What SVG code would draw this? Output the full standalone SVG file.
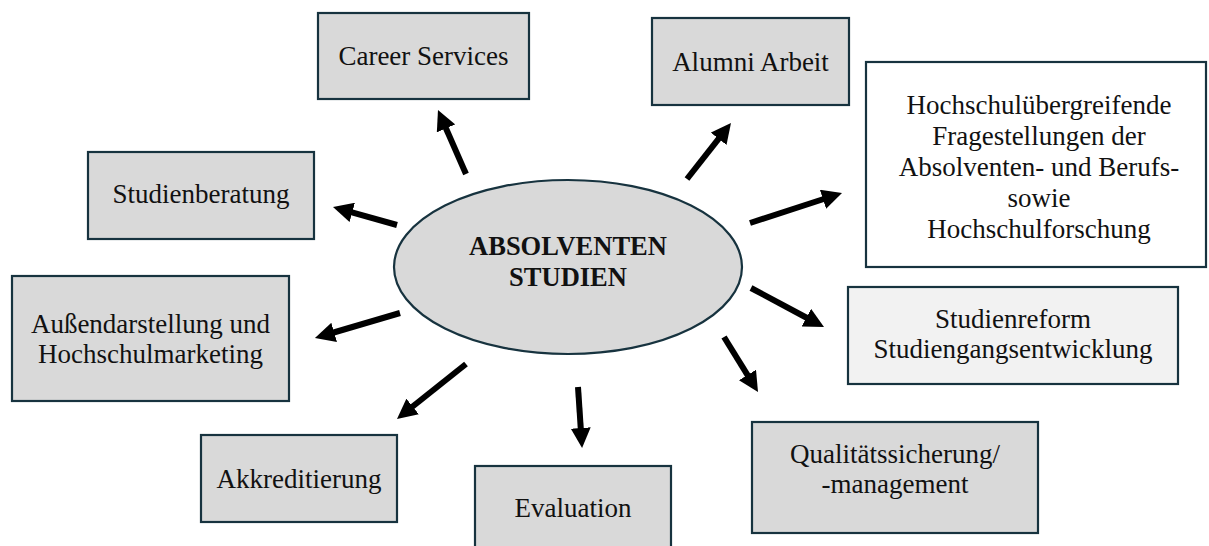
<svg xmlns="http://www.w3.org/2000/svg" width="1209" height="546" viewBox="0 0 1209 546">
  <style>
    .box { fill: #d9d9d9; stroke: #17333f; stroke-width: 2.2; }
    .box-white { fill: #ffffff; stroke: #17333f; stroke-width: 2.2; }
    .box-light { fill: #f2f2f2; stroke: #17333f; stroke-width: 2.2; }
    .lbl { font-family: "Liberation Serif", "Times New Roman", serif; font-size: 27px; fill: #111111; text-anchor: middle; }
    .hub { font-family: "Liberation Serif", "Times New Roman", serif; font-size: 26.5px; font-weight: bold; fill: #111111; text-anchor: middle; }
    .arrow { stroke: #000000; stroke-width: 6; fill: none; marker-end: url(#head); }
  </style>
  <defs>
    <marker id="head" markerUnits="userSpaceOnUse" viewBox="0 0 20 20" markerWidth="20" markerHeight="20" refX="4" refY="10" orient="auto">
      <path d="M0,0 L20,10 L0,20 z" fill="#000000"/>
    </marker>
  </defs>

  <rect width="1209" height="546" fill="#ffffff"/>

  <!-- central ellipse -->
  <g id="hub">
    <ellipse cx="568" cy="267" rx="174" ry="87" fill="#d9d9d9" stroke="#17333f" stroke-width="2.2"/>
    <text class="hub" x="568" y="255">ABSOLVENTEN</text>
    <text class="hub" x="568" y="286">STUDIEN</text>
  </g>

  <g id="career-services">
    <rect class="box" x="318" y="13" width="211" height="86"/>
    <text class="lbl" x="423.5" y="65">Career Services</text>
  </g>

  <g id="alumni-arbeit">
    <rect class="box" x="652" y="18" width="197" height="87"/>
    <text class="lbl" x="750.5" y="71">Alumni Arbeit</text>
  </g>

  <g id="hochschulforschung">
    <rect class="box-white" x="866" y="62" width="340" height="205"/>
    <text class="lbl" x="1039" y="114">Hochschulübergreifende</text>
    <text class="lbl" x="1039" y="145">Fragestellungen der</text>
    <text class="lbl" x="1039" y="176">Absolventen- und Berufs-</text>
    <text class="lbl" x="1039" y="207">sowie</text>
    <text class="lbl" x="1039" y="238">Hochschulforschung</text>
  </g>

  <g id="studienreform">
    <rect class="box-light" x="848" y="287" width="330" height="97"/>
    <text class="lbl" x="1013" y="328">Studienreform</text>
    <text class="lbl" x="1013" y="358">Studiengangsentwicklung</text>
  </g>

  <g id="qualitaetssicherung">
    <rect class="box" x="752" y="422" width="286" height="111"/>
    <text class="lbl" x="895" y="463">Qualitätssicherung/</text>
    <text class="lbl" x="895" y="493">-management</text>
  </g>

  <g id="evaluation">
    <rect class="box" x="475" y="466" width="196" height="90"/>
    <text class="lbl" x="573" y="517">Evaluation</text>
  </g>

  <g id="akkreditierung">
    <rect class="box" x="201" y="435" width="196" height="87"/>
    <text class="lbl" x="299" y="488">Akkreditierung</text>
  </g>

  <g id="aussendarstellung">
    <rect class="box" x="12" y="276" width="277" height="125"/>
    <text class="lbl" x="150.5" y="333">Außendarstellung und</text>
    <text class="lbl" x="150.5" y="363">Hochschulmarketing</text>
  </g>

  <g id="studienberatung">
    <rect class="box" x="88" y="152" width="226" height="87"/>
    <text class="lbl" x="201" y="203">Studienberatung</text>
  </g>

  <!-- connectors radiating from the hub -->
  <g id="connectors">
    <line class="arrow" x1="466" y1="174" x2="444.4" y2="124.7"/>
    <line class="arrow" x1="687" y1="179" x2="721.1" y2="135.6"/>
    <line class="arrow" x1="750" y1="223" x2="826.8" y2="198"/>
    <line class="arrow" x1="751" y1="288" x2="809.9" y2="319.5"/>
    <line class="arrow" x1="724" y1="337" x2="749.6" y2="378.4"/>
    <line class="arrow" x1="578" y1="387" x2="581" y2="432"/>
    <line class="arrow" x1="466" y1="364" x2="409.5" y2="409"/>
    <line class="arrow" x1="400" y1="313" x2="330.3" y2="333.5"/>
    <line class="arrow" x1="397" y1="225" x2="348.4" y2="211.3"/>
  </g>
</svg>
